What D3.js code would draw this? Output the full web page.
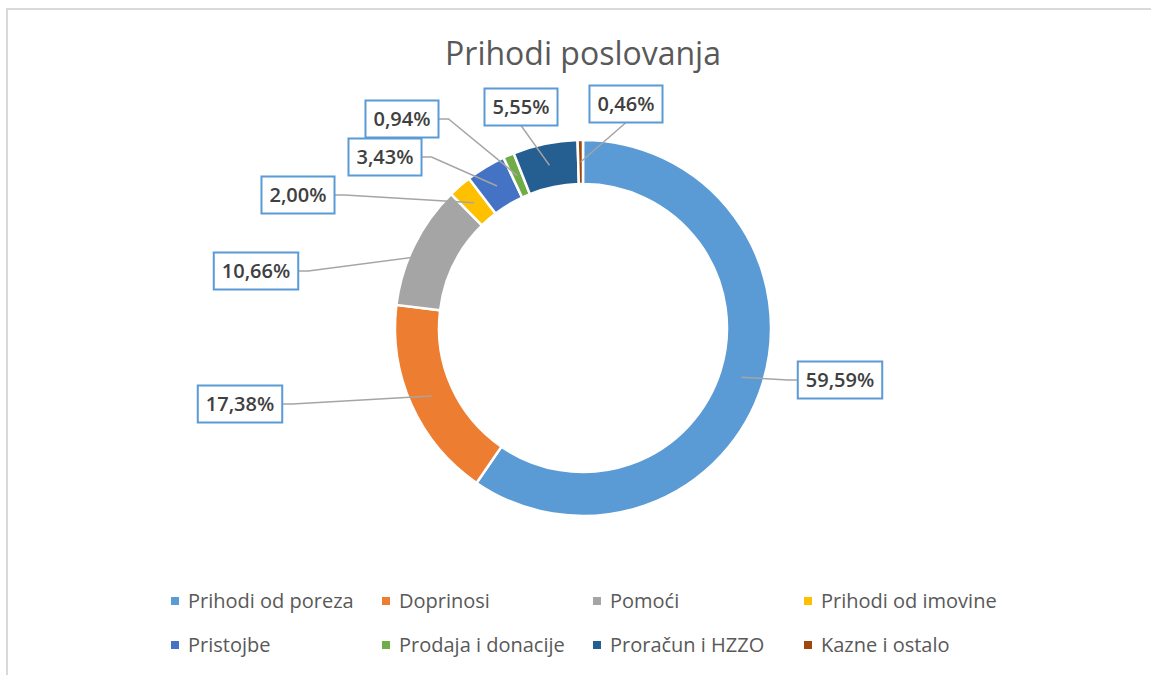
<!DOCTYPE html>
<html>
<head>
<meta charset="utf-8">
<script src="https://cdn.jsdelivr.net/npm/d3@7"></script>
<style>
  body { margin: 0; background: #fff; }
  svg { display: block; }
</style>
</head>
<body>
<svg id="chart" width="1151" height="675"></svg>
<script>
var categories = ["Prihodi od poreza", "Doprinosi", "Pomoći", "Prihodi od imovine", "Pristojbe", "Prodaja i donacije", "Proračun i HZZO", "Kazne i ostalo"];
var shares = [59.59, 17.38, 10.66, 2.00, 3.43, 0.94, 5.55, 0.46];
var colors = ["#5B9BD5", "#ED7D31", "#A5A5A5", "#FFC000", "#4472C4", "#70AD47", "#255E91", "#9E480E"];
// label box centres, relative to the donut centre (Excel placed them by hand)
var labelAt = [[257, 52], [-343, 76], [-327, -57], [-285, -133], [-198, -171], [-181, -209], [-62, -221], [43, -224]];

//////////////////////////////////////////////////////////////////////////////

var svg = d3.select("#chart");
var cx = 583, cy = 328;
var outerR = 188, innerR = 144;
var fmt = function(v){ return v.toFixed(2).replace(".", ",") + "%"; };

// chart frame
svg.append("rect")
    .attr("x", 7).attr("y", 9)
    .attr("width", 1200).attr("height", 700)
    .attr("fill", "none")
    .attr("stroke", "#d9d9d9")
    .attr("stroke-width", 2);

svg.append("text")
    .attr("x", cx).attr("y", 65)
    .attr("text-anchor", "middle")
    .style("font-family", "'Open Sans', sans-serif")
    .style("font-size", "32px")
    .style("fill", "#595959")
    .text("Prihodi poslovanja");

var pie = d3.pie().sort(null).value(function(d){ return d; });
var arcs = pie(shares);

var arc = d3.arc().innerRadius(innerR).outerRadius(outerR);
var mid = d3.arc().innerRadius((innerR + outerR) / 2).outerRadius((innerR + outerR) / 2);

var g = svg.append("g").attr("transform", "translate(" + cx + "," + cy + ")");

g.selectAll("path.slice")
    .data(arcs)
    .enter().append("path")
    .attr("class", "slice")
    .attr("d", arc)
    .attr("fill", function(d, i){ return colors[i]; })
    .attr("stroke", "#fff")
    .attr("stroke-width", 2.5);

var boxH = 37;
var labelFont = 20;

var labels = g.selectAll("g.lbl")
    .data(arcs)
    .enter().append("g")
    .attr("class", "lbl");

labels.each(function(d, i){
  var el = d3.select(this);
  var c = mid.centroid(d);
  var bx = labelAt[i][0], by = labelAt[i][1];
  var txt = fmt(shares[i]);

  var t = el.append("text")
      .attr("x", bx).attr("y", by)
      .attr("text-anchor", "middle")
      .attr("dy", "0.36em")
      .style("font-family", "'Open Sans', sans-serif")
      .style("font-weight", 600)
      .style("font-size", labelFont + "px")
      .style("fill", "#404040")
      .text(txt);
  var w = t.node().getComputedTextLength() + 16;

  // leader line
  var pts;
  if (c[1] > by + boxH / 2 + 20 && Math.abs(c[0] - bx) < 60) {
    pts = [[bx, by + boxH / 2], c];
  } else if (bx < c[0]) {
    pts = [[bx + w / 2, by], [bx + w / 2 + 10, by], c];
  } else {
    pts = [[bx - w / 2, by], [bx - w / 2 - 10, by], c];
  }
  el.insert("path", "text")
      .attr("d", d3.line()(pts))
      .attr("fill", "none")
      .attr("stroke", "#A5A5A5")
      .attr("stroke-width", 1.5);

  el.insert("rect", "text")
      .attr("x", bx - w / 2).attr("y", by - boxH / 2)
      .attr("width", w).attr("height", boxH)
      .attr("fill", "#fff")
      .attr("stroke", "#5B9BD5")
      .attr("stroke-width", 2);
});

// legend
var legX = d3.scalePoint().domain(d3.range(4)).range([175, 808]);
var legY = d3.scalePoint().domain([0, 1]).range([601, 645]);

var leg = svg.selectAll("g.leg")
    .data(categories)
    .enter().append("g")
    .attr("class", "leg")
    .attr("transform", function(d, i){ return "translate(" + legX(i % 4) + "," + legY(Math.floor(i / 4)) + ")"; });

leg.append("rect")
    .attr("x", -4).attr("y", -4)
    .attr("width", 8).attr("height", 8)
    .attr("fill", function(d, i){ return colors[i]; });

leg.append("text")
    .attr("x", 13).attr("dy", "0.35em")
    .style("font-family", "'Open Sans', sans-serif")
    .style("font-size", "20px")
    .style("fill", "#595959")
    .text(function(d){ return d; });
</script>
</body>
</html>
